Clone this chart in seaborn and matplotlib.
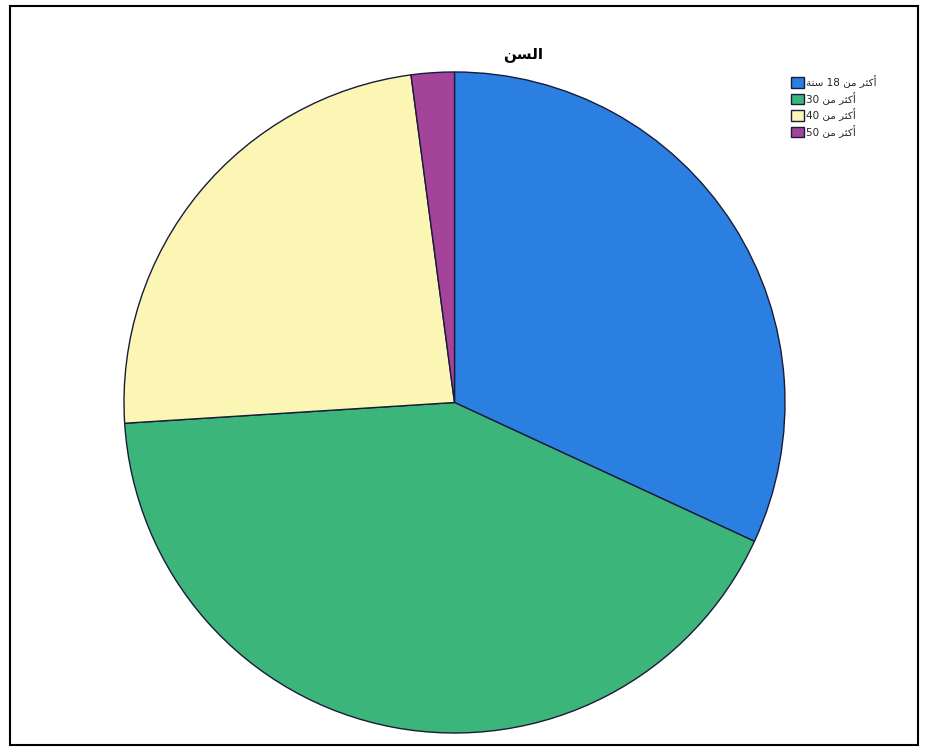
import matplotlib
matplotlib.use("Agg")
import matplotlib.pyplot as plt
import seaborn as sns
from matplotlib.patches import Rectangle

sns.set_theme(style="white")
plt.rcParams['font.family'] = ['DejaVu Sans']

# Arabic text in presentation forms, visual (left-to-right) order
title = "\uFEE6\uFEB4\uFEDF\uFE8D"  # السن
categories = [
    "\uFE94\uFEE8\uFEB3 18 \uFEE6\uFEE3 \uFEAE\uFE9C\uFEDB\uFE83",  # أكثر من 18 سنة
    "30 \uFEE6\uFEE3 \uFEAE\uFE9C\uFEDB\uFE83",                      # أكثر من 30
    "40 \uFEE6\uFEE3 \uFEAE\uFE9C\uFEDB\uFE83",                      # أكثر من 40
    "50 \uFEE6\uFEE3 \uFEAE\uFE9C\uFEDB\uFE83",                      # أكثر من 50
]
values = [31.9, 42.1, 23.9, 2.1]
colors = ["#2a7fe0", "#3cb57a", "#fbf6b4", "#a3449a"]

fig = plt.figure(figsize=(9.25, 7.49), dpi=100)
fig.patch.set_facecolor("white")

ax = fig.add_axes([124/925, 16/749, 661/925, 661/749])
wedges, _ = ax.pie(values, colors=colors, startangle=90, counterclock=False,
                   wedgeprops=dict(edgecolor="#1a1a3a", linewidth=1.0))
ax.set_xlim(-1.0, 1.0)
ax.set_ylim(-1.0, 1.0)
ax.set_aspect("equal")
ax.set_axis_off()

fig.text(523/925, 1 - 55/749, title, ha="center", va="center",
         fontsize=11, fontweight="bold", color="black")

fig.legend(wedges, categories, loc="upper left",
           bbox_to_anchor=(786/925, 1 - 70/749), frameon=False,
           fontsize=7.5, handlelength=1.2, handleheight=1.2,
           handletextpad=0.2, labelspacing=0.35, borderpad=0)

# outer frame
fig.add_artist(Rectangle((10/925, 1 - 745/749), 908/925, 739/749,
                         transform=fig.transFigure, fill=False,
                         edgecolor="black", linewidth=1.5))

fig.savefig("out.png", dpi=100)
